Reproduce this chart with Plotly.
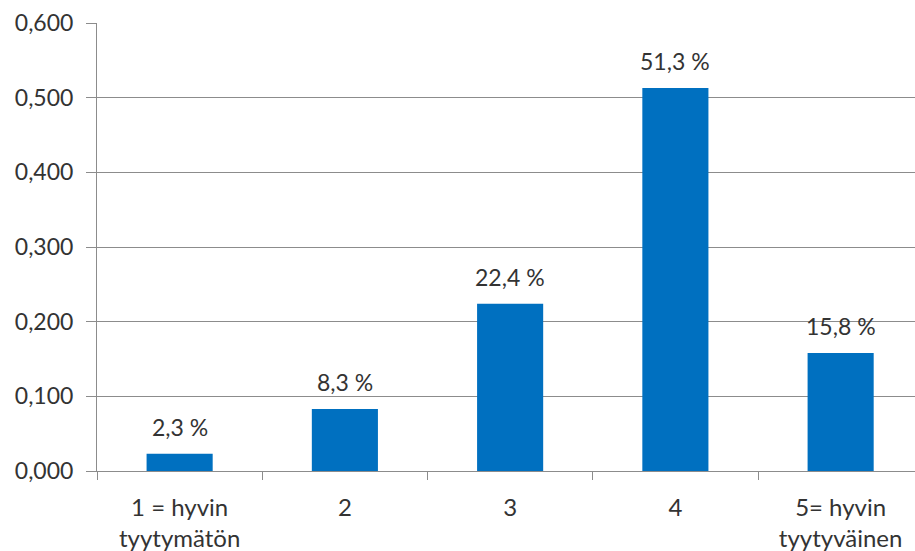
import plotly.graph_objects as go

categories = ["1 = hyvin<br>tyytymätön", "2", "3", "4", "5= hyvin<br>tyytyväinen"]
values = [0.023, 0.083, 0.224, 0.513, 0.158]
labels = ["2,3 %", "8,3 %", "22,4 %", "51,3 %", "15,8 %"]
y_ticks = [0.0, 0.1, 0.2, 0.3, 0.4, 0.5, 0.6]

FONT = "Lato"
TXT = "#333333"
GRID = "#8c8c8c"

fig = go.Figure()
fig.add_trace(go.Bar(x=categories, y=values, marker=dict(color="#0070C0", line=dict(width=0)),
                     width=0.4, hoverinfo="skip"))
for i, (v, t) in enumerate(zip(values, labels)):
    fig.add_annotation(x=i, y=v, xref="x", yref="y", text=t, showarrow=False,
                       yanchor="bottom", yshift=11,
                       font=dict(family=FONT, size=23, color=TXT))

fig.update_layout(
    width=915, height=551,
    margin=dict(l=97, r=0, t=23, b=80),
    paper_bgcolor="white", plot_bgcolor="white",
    separators=", ",
    showlegend=False,
    font=dict(family=FONT, size=23, color=TXT),
)
fig.update_xaxes(
    type="category", range=[-0.5, 4.45], tickson="boundaries",
    ticks="outside", ticklen=8, tickcolor=GRID, tickwidth=1,
    showline=True, linecolor=GRID, linewidth=1,
    showgrid=False, tickfont=dict(family=FONT, size=24, color=TXT),
    ticklabelstandoff=15, automargin=False,
)
fig.update_yaxes(
    range=[0, 0.6], tickvals=y_ticks, tickformat=".3f",
    ticks="outside", ticklen=10, tickcolor=GRID, tickwidth=1,
    showline=True, linecolor=GRID, linewidth=1,
    showgrid=True, gridcolor=GRID, gridwidth=1, zeroline=False,
    tickfont=dict(family=FONT, size=23, color=TXT), ticklabelstandoff=8,
    automargin=False,
)
fig.write_html("out.html")
